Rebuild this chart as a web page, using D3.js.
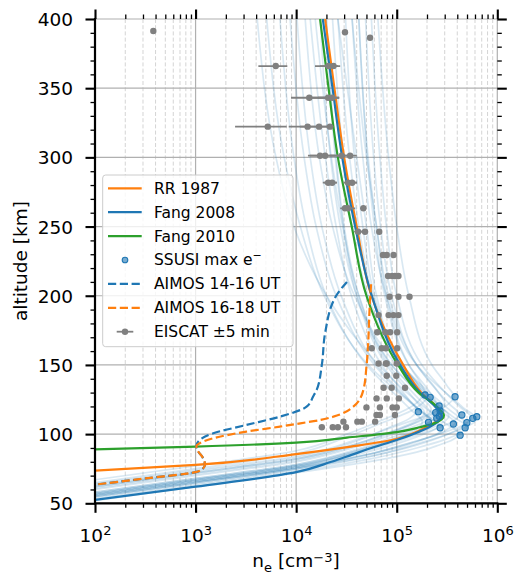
<!DOCTYPE html>
<html><head><meta charset="utf-8">
<script src="https://cdn.jsdelivr.net/npm/d3@7"></script>
<style>
html,body{margin:0;padding:0;background:#fff;}
svg{display:block;font-family:"DejaVu Sans",sans-serif;}
</style></head><body>
<svg id="chart" width="514" height="580"></svg>
<script>
// Electron density profiles: [altitude km, n_e cm^-3]
const rr1987 = [[73.6,1.0e2],[77.7,1.0e3],[85.6,1.0e4],[91,3.5e4],[96.5,1.0e5],[101,1.5e5],[105.4,2.0e5],[110,2.6e5],[113,2.75e5],[120,2.45e5],[130,1.75e5],[150,1.16e5],[200,5.6e4],[250,4.0e4],[300,3.0e4],[350,2.4e4],[400,1.94e4]];
const fang2008 = [[52.4,1.0e2],[62,1.0e3],[72.5,1.0e4],[80,2.24e4],[85,3.55e4],[90,5.6e4],[95.7,1.0e5],[100,1.45e5],[105,2.1e5],[110,2.65e5],[113,2.8e5],[120,2.4e5],[130,1.7e5],[150,1.08e5],[200,5.65e4],[250,3.86e4],[300,2.87e4],[350,2.3e4],[400,1.84e4]];
const fang2010 = [[89,1.0e2],[91,1.0e3],[93.8,1.0e4],[97.5,3.2e4],[101.5,1.0e5],[105,1.7e5],[108,2.4e5],[113.5,2.95e5],[120,2.5e5],[130,1.65e5],[150,1.03e5],[200,5.0e4],[250,3.57e4],[300,2.6e4],[350,2.1e4],[400,1.73e4]];
const aimos1416 = [[210,3.2e4],[200,2.5e4],[173,1.94e4],[150,1.8e4],[132,1.6e4],[127.4,1.48e4],[119.8,1.27e4],[112.6,6.9e3],[106.6,3.2e3],[100.6,1.5e3],[95.8,1.1e3],[91.5,1.02e3],[88,1.05e3],[83,1.18e3],[78,1.24e3],[75,1.18e3],[72.5,1.0e3],[68,3.2e2],[63.5,1.0e2]];
const aimos1618 = [[208.3,5.56e4],[197,5.43e4],[148.7,5.0e4],[131.9,4.66e4],[119.8,3.7e4],[112.6,2.35e4],[110.2,1.74e4],[107.8,1.1e4],[105.4,6.9e3],[101.8,3.2e3],[97,1.5e3],[93.4,1.1e3],[91.5,1.02e3],[88,1.05e3],[83,1.18e3],[78,1.24e3],[75,1.18e3],[72.5,1.0e3],[68,3.2e2],[63.5,1.0e2]];

// Individual Fang 2008 profiles for each SSUSI retrieval
const ssusiProfiles = [
  [[67,1e2],[77,1e3],[88,1e4],[100,3.2e4],[110,7.1e4],[118,1.26e5],[123,1.6e5],[128,1.8e5],[136,1.6e5],[150,1.12e5],[200,6.3e4],[250,5.0e4],[300,4.0e4],[400,2.6e4]],
  [[65,1e2],[75,1e3],[86,1e4],[98,3.2e4],[108,7.1e4],[117,1.41e5],[122,1.78e5],[127,2.0e5],[135,1.78e5],[150,1.32e5],[200,7.9e4],[250,6.3e4],[300,5.0e4],[400,3.6e4]],
  [[64,1e2],[74,1e3],[84,1e4],[96,4.0e4],[106,1.0e5],[115,2.24e5],[121,3.16e5],[127,3.7e5],[135,3.16e5],[150,2.24e5],[200,1.32e5],[250,1.0e5],[300,8.3e4],[400,6.5e4]],
  [[62,1e2],[72,1e3],[82,1e4],[93,4.0e4],[103,1.0e5],[110,1.78e5],[115,2.3e5],[120,2.57e5],[128,2.24e5],[150,1.32e5],[200,7.6e4],[250,6.0e4],[300,5.1e4],[400,4.2e4]],
  [[63,1e2],[73,1e3],[83,1e4],[95,4.0e4],[104,7.9e4],[111,1.32e5],[117,1.58e5],[125,1.32e5],[150,7.1e4],[200,3.55e4],[250,2.5e4],[300,1.95e4],[400,1.38e4]],
  [[58,1e2],[68,1e3],[78,1e4],[89,4.0e4],[99,1.0e5],[106,1.78e5],[111,2.4e5],[116,2.7e5],[124,2.24e5],[150,1.12e5],[200,6.0e4],[250,4.6e4],[300,3.8e4],[400,3.1e4]],
  [[57,1e2],[67,1e3],[77,1e4],[88,5.0e4],[97,1.26e5],[104,2.5e5],[109,3.55e5],[114,4.2e5],[122,3.3e5],[150,1.58e5],[200,8.9e4],[250,6.9e4],[300,5.9e4],[400,4.9e4]],
  [[56,1e2],[66,1e3],[76,1e4],[86,5.6e4],[95,1.58e5],[102,3.16e5],[107,4.7e5],[112,5.5e5],[120,4.2e5],[150,1.78e5],[200,1.0e5],[250,7.9e4],[300,6.8e4],[400,5.6e4]],
  [[56,1e2],[66,1e3],[76,1e4],[87,4.0e4],[96,1.0e5],[102,1.66e5],[107,2.24e5],[111,2.5e5],[119,2.0e5],[150,8.3e4],[200,4.2e4],[250,3.0e4],[300,2.5e4],[400,2.0e4]],
  [[55,1e2],[65,1e3],[75,1e4],[85,6.3e4],[94,1.78e5],[101,3.55e5],[106,5.2e5],[111,6.2e5],[119,4.6e5],[150,1.58e5],[200,7.9e4],[250,5.6e4],[300,4.6e4],[400,3.6e4]],
  [[57,1e2],[67,1e3],[77,1e4],[88,4.0e4],[96,8.9e4],[101,1.32e5],[105,1.66e5],[109,1.8e5],[117,1.41e5],[150,5.0e4],[200,2.0e4],[250,1.26e4],[300,9.5e3],[400,6.9e3]],
  [[54,1e2],[64,1e3],[74,1e4],[84,5.6e4],[92,1.58e5],[99,3.0e5],[104,4.2e5],[108,4.8e5],[116,3.55e5],[150,1.12e5],[200,5.2e4],[250,3.6e4],[300,2.95e4],[400,2.3e4]],
  [[55,1e2],[65,1e3],[75,1e4],[85,5.0e4],[93,1.26e5],[99,2.4e5],[104,3.3e5],[108,3.8e5],[116,2.8e5],[150,8.9e4],[200,4.0e4],[250,2.75e4],[300,2.2e4],[400,1.74e4]],
  [[56,1e2],[66,1e3],[76,1e4],[86,4.5e4],[93,1.0e5],[98,1.58e5],[102,2.2e5],[106,2.6e5],[114,1.9e5],[150,6.0e4],[200,2.5e4],[250,1.58e4],[300,1.2e4],[400,8.7e3]],
  [[53,1e2],[63,1e3],[73,1e4],[83,6.3e4],[90,1.58e5],[96,3.0e5],[101,4.3e5],[105,5.0e5],[113,3.55e5],[150,1.0e5],[200,3.8e4],[250,2.3e4],[300,1.7e4],[400,1.23e4]],
  [[55,1e2],[65,1e3],[75,1e4],[85,5.0e4],[91,1.12e5],[96,1.8e5],[100,2.5e5],[104,2.9e5],[112,2.1e5],[150,5.2e4],[200,1.9e4],[250,1.1e4],[300,7.6e3],[400,5.1e3]],
  [[52,1e2],[62,1e3],[72,1e4],[81,6.3e4],[87,1.58e5],[92,2.6e5],[96,3.6e5],[100,4.2e5],[108,3.0e5],[130,1.26e5],[150,6.6e4],[200,2.0e4],[250,9.5e3],[300,6.3e3],[400,4.1e3]],
  [[60,1e2],[70,1e3],[80,1e4],[91,4.0e4],[101,1.0e5],[109,1.9e5],[116,2.6e5],[122,3.0e5],[130,2.6e5],[150,1.58e5],[200,8.3e4],[250,6.3e4],[300,5.2e4],[400,4.2e4]],
  [[61,1e2],[71,1e3],[81,1e4],[92,4.0e4],[101,8.9e4],[108,1.51e5],[113,1.95e5],[118,2.2e5],[126,1.8e5],[150,8.9e4],[200,4.2e4],[250,2.9e4],[300,2.24e4],[400,1.55e4]],
  [[57,1e2],[67,1e3],[77,1e4],[88,4.5e4],[97,1.12e5],[103,2.0e5],[108,2.8e5],[113,3.3e5],[121,2.6e5],[150,1.15e5],[200,5.8e4],[250,4.2e4],[300,3.4e4],[400,2.6e4]],
  [[58,1e2],[68,1e3],[78,1e4],[88,4.0e4],[96,8.9e4],[101,1.41e5],[106,1.9e5],[110,2.2e5],[118,1.66e5],[150,6.3e4],[200,2.8e4],[250,1.8e4],[300,1.38e4],[400,1.02e4]],
  [[62,1e2],[72,1e3],[82,1e4],[93,4.0e4],[102,8.9e4],[108,1.41e5],[112,1.74e5],[115,1.9e5],[123,1.58e5],[150,7.9e4],[200,4.0e4],[250,2.95e4],[300,2.45e4],[400,2.0e4]]
];

// SSUSI altitude and density of maximum electron density
const ssusiAlt = [128.3,126.6,127.0,116.2,120.3,116.7,108.5,111.4,104.6,113.8,107.3,108.3,104.6,111.4,112.6,99.2,115.5,113.0];
const ssusiNe  = [1.91e5,2.15e5,3.8e5,1.64e5,2.64e5,2.7e5,2.07e5,2.5e5,2.7e5,4.44e5,3.66e5,4.98e5,4.79e5,5.7e5,6.25e5,4.27e5,2.44e5,2.65e5];

// EISCAT measurements within +-5 min, with min/max range
const eiscatAlt = [391.3,390.4,386.5, 366,366,366, 343.1,343.1,343.1, 322.2,322.2,322.2,322.2, 301.2,301.2,301.2,301.2, 281.7,281.7,281.7,281.7, 263.2,263.2,263.2, 246.3,246.3,246.3, 229.4,229.4,229.4, 214.3,214.3,214.3,214.3, 199.3,199.3,199.3, 186,186,186,186, 173.6,173.6,173.6,173.6, 162,162,162,162, 151,151,151,151, 142.2,142.2, 133.5,133.5,133.5, 125.8,125.8,125.8, 119.3,119.3,119.3,119.3, 113.8,113.8,113.8, 109,109,109,109, 105,105,105,105];
const eiscatNe  = [380,3.06e4,5.43e4, 6.27e3,2.09e4,2.35e4, 1.35e4,2.08e4,2.28e4, 5.22e3,1.30e4,1.69e4,2.17e4, 1.73e4,1.94e4,2.84e4,3.44e4, 2.08e4,2.28e4,3.28e4,3.6e4, 3.06e4,3.28e4,4.66e4, 4.13e4,4.84e4,6.7e4, 7.3e4,7.96e4,9.3e4, 8.2e4,9.0e4,9.6e4,1.04e5, 8.5e4,1.04e5,1.34e5, 6.6e4,8.3e4,9.3e4,1.04e5, 6.4e4,7.7e4,8.6e4,1.01e5, 5.65e4,7.1e4,7.8e4,1.01e5, 6.6e4,7.8e4,7.95e4,1.0e5, 7.96e4,9.9e4, 7.4e4,8.9e4,1.21e5, 6.3e4,7.96e4,1.05e5, 5.0e4,6.8e4,9.1e4,1.0e5, 6.3e4,6.8e4,9.6e4, 2.95e4,4.06e4,4.5e4,6.1e4, 1.8e4,2.31e4,2.6e4,3.13e4];
const eiscatLo  = [380,3.06e4,5.43e4, 4.21e3,1.54e4,1.73e4, 8.89e3,1.44e4,1.65e4, 2.47e3,8.43e3,1.09e4,1.65e4, 1.31e4,1.37e4,2.17e4,2.74e4, 1.84e4,1.9e4,2.95e4,3.06e4, 2.74e4,2.86e4,4.33e4, 3.77e4,4.33e4,6.7e4, 7.3e4,7.96e4,9.3e4, 8.2e4,9.0e4,9.6e4,1.04e5, 8.5e4,1.04e5,1.34e5, 6.6e4,8.3e4,9.3e4,1.04e5, 6.4e4,7.7e4,8.6e4,1.01e5, 5.65e4,7.1e4,7.8e4,1.01e5, 6.6e4,7.8e4,7.95e4,1.0e5, 7.96e4,9.9e4, 7.4e4,8.9e4,1.21e5, 6.3e4,7.96e4,1.05e5, 5.0e4,6.8e4,9.1e4,1.0e5, 6.3e4,6.8e4,9.6e4, 2.95e4,4.06e4,4.5e4,6.1e4, 1.8e4,2.31e4,2.6e4,3.13e4];
const eiscatHi  = [380,3.06e4,5.43e4, 8.17e3,2.61e4,2.74e4, 1.98e4,2.67e4,2.69e4, 8.05e3,1.81e4,2.17e4,2.35e4, 2.44e4,2.74e4,3.6e4,4.01e4, 2.54e4,2.54e4,4.01e4,4.01e4, 3.6e4,3.86e4,4.96e4, 4.52e4,5.19e4,6.7e4, 7.3e4,7.96e4,9.3e4, 8.2e4,9.0e4,9.6e4,1.04e5, 8.5e4,1.04e5,1.34e5, 6.6e4,8.3e4,9.3e4,1.04e5, 6.4e4,7.7e4,8.6e4,1.01e5, 5.65e4,7.1e4,7.8e4,1.01e5, 6.6e4,7.8e4,7.95e4,1.0e5, 7.96e4,9.9e4, 7.4e4,8.9e4,1.21e5, 6.3e4,7.96e4,1.05e5, 5.0e4,6.8e4,9.1e4,1.0e5, 6.3e4,6.8e4,9.6e4, 2.95e4,4.06e4,4.5e4,6.1e4, 1.8e4,2.31e4,2.6e4,3.13e4];

// Axis ticks
const xMajorTicks = [1e2,1e3,1e4,1e5,1e6];
const yMajorTicks = [50,100,150,200,250,300,350,400];

const legendLabels = ["RR 1987","Fang 2008","Fang 2010","SSUSI max e","AIMOS 14-16 UT","AIMOS 16-18 UT","EISCAT \u00b15 min"];

const C = {blue:"#1f77b4", orange:"#ff7f0e", green:"#2ca02c", gray:"#808080"};
const L = 95, R = 497.3, T = 19, B = 503.3;

const x = d3.scaleLog().domain([1e2,1e6]).range([L,R]);
const y = d3.scaleLinear().domain([50,400]).range([B,T]);
const xMinorTicks = x.ticks().filter(v => !xMajorTicks.includes(v));
const yMinorTicks = d3.range(50, 401, 10).filter(v => v % 50 !== 0);

const svg = d3.select("#chart");
svg.append("rect").attr("width",514).attr("height",580).attr("fill","#fff");

svg.append("defs").append("clipPath").attr("id","plotclip")
  .append("rect").attr("x",L).attr("y",T).attr("width",R-L).attr("height",B-T);

// grid
const grid = svg.append("g");
grid.selectAll(".gxm").data(xMinorTicks).join("line")
  .attr("x1",d=>x(d)).attr("x2",d=>x(d)).attr("y1",T).attr("y2",B)
  .attr("stroke","#d4d4d4").attr("stroke-width",1).attr("stroke-dasharray","4,2.2");
grid.selectAll(".gx").data(xMajorTicks).join("line")
  .attr("x1",d=>x(d)).attr("x2",d=>x(d)).attr("y1",T).attr("y2",B)
  .attr("stroke","#b0b0b0").attr("stroke-width",1.2);
grid.selectAll(".gy").data(yMajorTicks).join("line")
  .attr("x1",L).attr("x2",R).attr("y1",d=>y(d)).attr("y2",d=>y(d))
  .attr("stroke","#b0b0b0").attr("stroke-width",1.2);

const line = d3.line().x(d=>x(d[1])).y(d=>y(d[0])).curve(d3.curveMonotoneY);
const plot = svg.append("g").attr("clip-path","url(#plotclip)");

plot.selectAll(".faint").data(ssusiProfiles).join("path")
  .attr("d",line).attr("fill","none").attr("stroke",C.blue)
  .attr("stroke-opacity",0.17).attr("stroke-width",1.7);

const mainLines = [
  {data:rr1987, color:C.orange, dash:null},
  {data:fang2008, color:C.blue, dash:null},
  {data:fang2010, color:C.green, dash:null}
];
plot.selectAll(".main").data(mainLines).join("path")
  .attr("d",d=>line(d.data)).attr("fill","none").attr("stroke",d=>d.color)
  .attr("stroke-width",2.2);

// SSUSI maxima
plot.selectAll(".ssusi").data(ssusiAlt).join("circle")
  .attr("cx",(d,i)=>x(ssusiNe[i])).attr("cy",d=>y(d)).attr("r",3.1)
  .attr("fill",C.blue).attr("fill-opacity",0.6)
  .attr("stroke",C.blue).attr("stroke-width",1.1);

// AIMOS
const aimos = [{data:aimos1416,color:C.blue},{data:aimos1618,color:C.orange}];
plot.selectAll(".aimos").data(aimos).join("path")
  .attr("d",d=>line(d.data)).attr("fill","none").attr("stroke",d=>d.color)
  .attr("stroke-width",2.2).attr("stroke-dasharray","8.2,3.6");

// EISCAT
const eis = plot.append("g");
eis.selectAll("line").data(eiscatAlt).join("line")
  .attr("x1",(d,i)=>x(eiscatLo[i])).attr("x2",(d,i)=>x(eiscatHi[i]))
  .attr("y1",d=>y(d)).attr("y2",d=>y(d))
  .attr("stroke",C.gray).attr("stroke-width",1.8);
eis.selectAll("circle").data(eiscatAlt).join("circle")
  .attr("cx",(d,i)=>x(eiscatNe[i])).attr("cy",d=>y(d)).attr("r",3.2)
  .attr("fill",C.gray);

// axes
function styleAxis(g, w){
  g.select(".domain").remove();
  g.selectAll(".tick line").attr("stroke","#000").attr("stroke-width",w);
  g.attr("font-family",null).attr("font-size",null);
  g.selectAll("text").attr("fill","#000").style("font-size","18.5px").style("font-family","DejaVu Sans");
}
const majW = 2.1, minW = 1.3, majL = 9.5, minL = 4.5;

const gl = svg.append("g").attr("transform",`translate(${L},0)`)
  .call(d3.axisLeft(y).tickValues(yMajorTicks).tickSize(majL).tickPadding(12.5).tickFormat(d3.format("d")));
styleAxis(gl, majW);
gl.selectAll("text").attr("dy","0.35em");
styleAxis(svg.append("g").attr("transform",`translate(${L},0)`)
  .call(d3.axisLeft(y).tickValues(yMinorTicks).tickSize(minL).tickFormat("")), minW);
styleAxis(svg.append("g").attr("transform",`translate(${R},0)`)
  .call(d3.axisRight(y).tickValues(yMajorTicks).tickSize(majL).tickFormat("")), majW);
styleAxis(svg.append("g").attr("transform",`translate(${R},0)`)
  .call(d3.axisRight(y).tickValues(yMinorTicks).tickSize(minL).tickFormat("")), minW);
styleAxis(svg.append("g").attr("transform",`translate(0,${T})`)
  .call(d3.axisTop(x).tickValues(xMajorTicks).tickSize(majL).tickFormat("")), majW);
styleAxis(svg.append("g").attr("transform",`translate(0,${T})`)
  .call(d3.axisTop(x).tickValues(xMinorTicks).tickSize(minL).tickFormat("")), minW);
styleAxis(svg.append("g").attr("transform",`translate(0,${B})`)
  .call(d3.axisBottom(x).tickValues(xMinorTicks).tickSize(minL).tickFormat("")), minW);
const gb = svg.append("g").attr("transform",`translate(0,${B})`)
  .call(d3.axisBottom(x).tickValues(xMajorTicks).tickSize(majL).tickPadding(15.8).tickFormat(()=>""));
styleAxis(gb, majW);
gb.selectAll(".tick text").each(function(d){
  const t = d3.select(this);
  t.append("tspan").text("10");
  t.append("tspan").attr("dy",-6.7).style("font-size","13px").text(String(Math.round(Math.log10(d))));
});

// spines
svg.append("path").attr("d",`M${L},${T}V${B}H${R}`).attr("fill","none")
  .attr("stroke","#000").attr("stroke-width",2.2).attr("stroke-linecap","square");

// axis labels
svg.append("text").attr("transform","translate(27,261) rotate(-90)")
  .attr("text-anchor","middle").style("font-size","18.5px").text("altitude [km]");
const xl = svg.append("text").attr("x",296).attr("y",567).attr("text-anchor","middle").style("font-size","18.5px");
xl.append("tspan").text("n");
xl.append("tspan").attr("dy",4.5).style("font-size","13px").text("e");
xl.append("tspan").attr("dy",-4.5).text(" [cm");
xl.append("tspan").attr("dy",-5.5).style("font-size","13px").text("\u22123");
xl.append("tspan").attr("dy",5.5).text("]");

// legend
const lg = svg.append("g");
lg.append("rect").attr("x",102.7).attr("y",175).attr("width",190.3).attr("height",171.7).attr("rx",3)
  .attr("fill","#fff").attr("fill-opacity",0.8).attr("stroke","#cccccc").attr("stroke-width",1);
const rowY = i => 188.3 + i*23.9;
const handles = [
  {type:"line",color:C.orange},{type:"line",color:C.blue},{type:"line",color:C.green},
  {type:"dot"},{type:"dash",color:C.blue},{type:"dash",color:C.orange},{type:"err"}
];
handles.forEach((h,i)=>{
  const yy = rowY(i);
  if(h.type==="line"||h.type==="dash"){
    lg.append("line").attr("x1",108).attr("x2",141.7).attr("y1",yy).attr("y2",yy)
      .attr("stroke",h.color).attr("stroke-width",2.2)
      .attr("stroke-dasharray",h.type==="dash"?"8.2,3.6":null);
  } else if(h.type==="dot"){
    lg.append("circle").attr("cx",125).attr("cy",yy).attr("r",2.8)
      .attr("fill",C.blue).attr("fill-opacity",0.6).attr("stroke",C.blue).attr("stroke-width",1.1);
  } else {
    lg.append("line").attr("x1",116.7).attr("x2",133.3).attr("y1",yy).attr("y2",yy)
      .attr("stroke",C.gray).attr("stroke-width",1.8);
    lg.append("circle").attr("cx",125).attr("cy",yy).attr("r",3.2).attr("fill",C.gray);
  }
  const t = lg.append("text").attr("x",154).attr("y",yy).attr("dy","0.35em").style("font-size","15.5px").text(legendLabels[i]);
  if(i===3) t.append("tspan").attr("dy",-6).style("font-size","11px").text("\u2212");
});
</script>
</body></html>
